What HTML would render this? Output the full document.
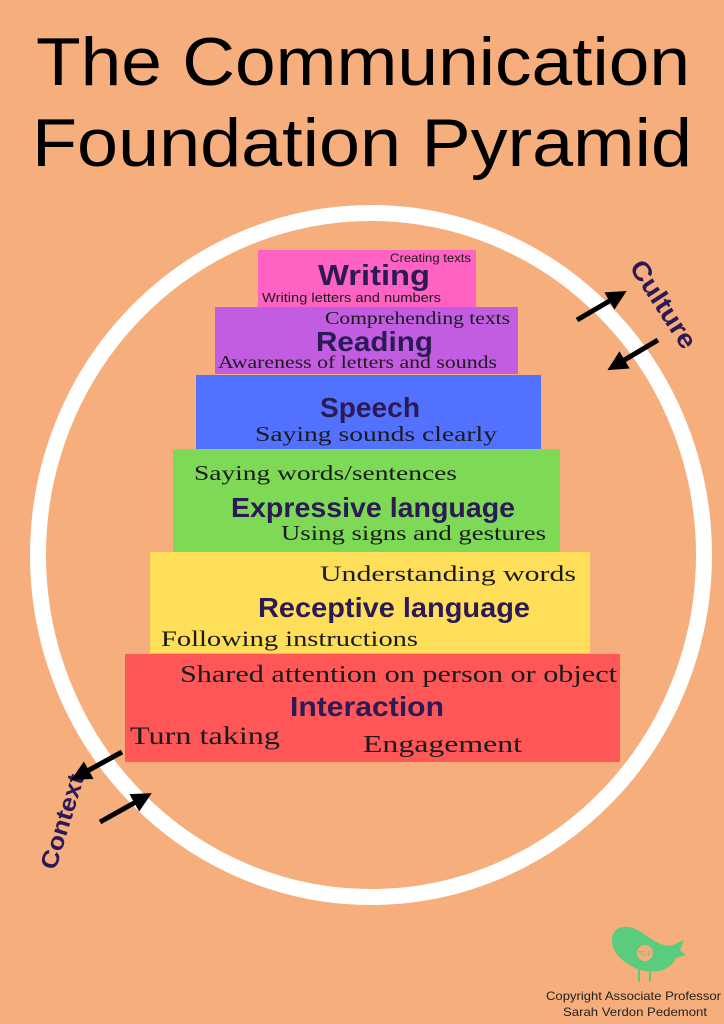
<!DOCTYPE html>
<html><head><meta charset="utf-8"><style>
html,body{margin:0;padding:0;background:#F5AE7C;}
svg{display:block}
.h{font-family:"Liberation Sans",sans-serif;font-weight:bold;fill:#2B1A55}
.s{font-family:"Liberation Serif",serif;fill:#1a1a1a}
</style></head><body>
<svg width="724" height="1024" viewBox="0 0 724 1024" xmlns="http://www.w3.org/2000/svg">
<defs><marker id="a" markerWidth="4" markerHeight="4" refX="2" refY="2" orient="auto"><path d="M0,0 L4,2 L0,4 z" fill="#000"/></marker></defs>
<rect width="724" height="1024" fill="#F5AE7C"/>
<text x="36" y="85" font-family="Liberation Sans,sans-serif" font-size="68" textLength="654" lengthAdjust="spacingAndGlyphs" fill="#000">The Communication</text>
<text x="32" y="166" font-family="Liberation Sans,sans-serif" font-size="68" textLength="660" lengthAdjust="spacingAndGlyphs" fill="#000">Foundation Pyramid</text>
<ellipse cx="371" cy="555" rx="333" ry="342" fill="none" stroke="#fff" stroke-width="16"/>
<rect x="258" y="250" width="218" height="57" fill="#FF62C3"/>
<rect x="215" y="307" width="303" height="67" fill="#C25CE0"/>
<rect x="196" y="375" width="345" height="74" fill="#5271FF"/>
<rect x="173" y="449" width="387" height="103" fill="#7ED957"/>
<rect x="150" y="552" width="440" height="101" fill="#FFDE59"/>
<rect x="125" y="654" width="495" height="108" fill="#FF5757"/>
<text class="s" x="390" y="262" font-size="12" textLength="81" lengthAdjust="spacingAndGlyphs" style="font-family:'Liberation Sans',sans-serif">Creating texts</text>
<text class="h" x="318" y="285" font-size="29" textLength="112" lengthAdjust="spacingAndGlyphs">Writing</text>
<text class="s" x="262" y="302" font-size="13" textLength="179" lengthAdjust="spacingAndGlyphs" style="font-family:'Liberation Sans',sans-serif">Writing letters and numbers</text>
<text class="s" x="325" y="324" font-size="18" textLength="185" lengthAdjust="spacingAndGlyphs">Comprehending texts</text>
<text class="h" x="316" y="351" font-size="28" textLength="117" lengthAdjust="spacingAndGlyphs">Reading</text>
<text class="s" x="218" y="368" font-size="18" textLength="279" lengthAdjust="spacingAndGlyphs">Awareness of letters and sounds</text>
<text class="h" x="320" y="417" font-size="28" textLength="100" lengthAdjust="spacingAndGlyphs">Speech</text>
<text class="s" x="255" y="441" font-size="21" textLength="242" lengthAdjust="spacingAndGlyphs">Saying sounds clearly</text>
<text class="s" x="194" y="480" font-size="21" textLength="263" lengthAdjust="spacingAndGlyphs">Saying words/sentences</text>
<text class="h" x="231" y="517" font-size="28" textLength="284" lengthAdjust="spacingAndGlyphs">Expressive language</text>
<text class="s" x="281" y="540" font-size="21" textLength="265" lengthAdjust="spacingAndGlyphs">Using signs and gestures</text>
<text class="s" x="320" y="581" font-size="22" textLength="256" lengthAdjust="spacingAndGlyphs">Understanding words</text>
<text class="h" x="258" y="617" font-size="28" textLength="272" lengthAdjust="spacingAndGlyphs">Receptive language</text>
<text class="s" x="161" y="646" font-size="22" textLength="257" lengthAdjust="spacingAndGlyphs">Following instructions</text>
<text class="s" x="180" y="682" font-size="24" textLength="437" lengthAdjust="spacingAndGlyphs">Shared attention on person or object</text>
<text class="h" x="290" y="716" font-size="28" textLength="154" lengthAdjust="spacingAndGlyphs">Interaction</text>
<text class="s" x="130" y="744" font-size="25" textLength="150" lengthAdjust="spacingAndGlyphs">Turn taking</text>
<text class="s" x="363" y="752" font-size="24" textLength="159" lengthAdjust="spacingAndGlyphs">Engagement</text>
<text class="h" font-size="26" text-anchor="middle" transform="translate(656,309) rotate(57)" textLength="100" lengthAdjust="spacingAndGlyphs">Culture</text>
<text class="h" font-size="24" text-anchor="middle" transform="translate(70,824) rotate(-73)" textLength="98" lengthAdjust="spacingAndGlyphs">Context</text>
<g stroke="#000" stroke-width="5" marker-end="url(#a)">
<line x1="577" y1="320" x2="618" y2="296"/>
<line x1="658" y1="340" x2="616" y2="365"/>
<line x1="122" y1="752" x2="80" y2="775"/>
<line x1="100" y1="822" x2="143" y2="798"/>
</g>
<g fill="#5BCB7E">
<path d="M612,940 C612,925 630,922 645,935 C660,945 668,948 675,944 L684,940 L680,950 L686,955 L676,958 C670,972 650,975 635,968 C620,960 612,952 612,940 Z"/>
<circle cx="645" cy="953" r="8" fill="#F5AE7C"/>
</g>
<text x="645" y="956" font-size="7" text-anchor="middle" font-family="Liberation Sans,sans-serif" fill="#5BCB7E">TCP</text>
<g stroke="#5BCB7E" stroke-width="2"><line x1="639" y1="968" x2="639" y2="982"/><line x1="650" y1="968" x2="650" y2="982"/></g>
<text x="546" y="1000" font-size="12" font-family="Liberation Sans,sans-serif" fill="#222" textLength="175" lengthAdjust="spacingAndGlyphs">Copyright Associate Professor</text>
<text x="563" y="1016" font-size="12" font-family="Liberation Sans,sans-serif" fill="#222" textLength="144" lengthAdjust="spacingAndGlyphs">Sarah Verdon Pedemont</text>
</svg>
</body></html>
